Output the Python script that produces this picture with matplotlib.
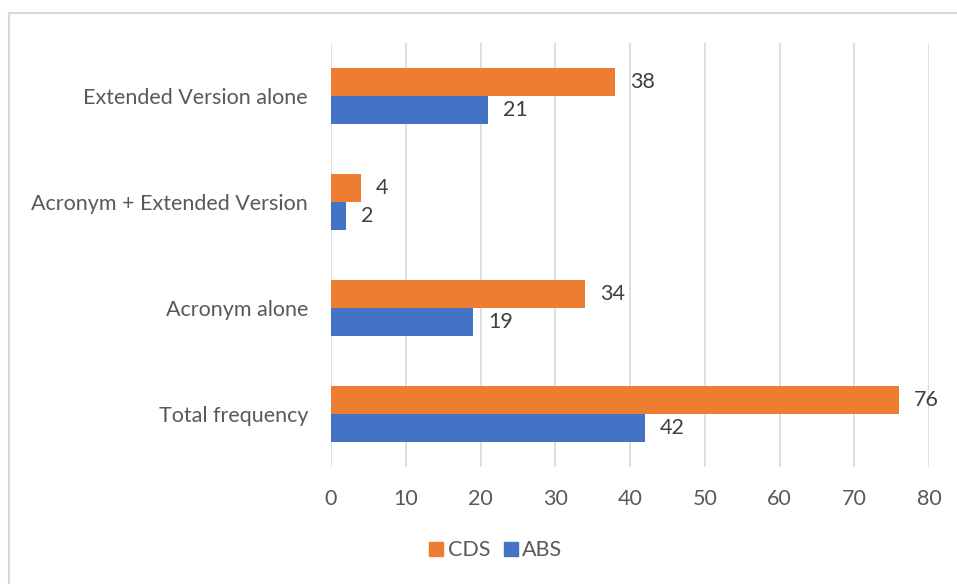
import numpy as np
import matplotlib
matplotlib.use("Agg")
import matplotlib.pyplot as plt
from matplotlib.lines import Line2D

categories = ["Total frequency", "Acronym alone", "Acronym + Extended Version", "Extended Version alone"]
cds = [76, 34, 4, 38]
abs_ = [42, 19, 2, 21]
xticks = [0, 10, 20, 30, 40, 50, 60, 70, 80]

ORANGE = "#ED7D31"
BLUE = "#4472C4"
TXT = "#595959"
GRID = "#D9D9D9"
FS = 15.5

plt.rcParams["font.family"] = ["Lato", "DejaVu Sans"]

fig = plt.figure(figsize=(9.57, 5.84), dpi=100)
ax = fig.add_axes([0.3459, 0.2003, 0.6249, 0.726])

y = np.arange(len(categories))
h = 0.26
ax.barh(y + h / 2, cds, height=h, color=ORANGE, label="CDS", zorder=3)
ax.barh(y - h / 2, abs_, height=h, color=BLUE, label="ABS", zorder=3)

for yi, v in zip(y + h / 2, cds):
    ax.text(v + 2.0, yi, str(v), va="center", ha="left", fontsize=FS, color="#404040")
for yi, v in zip(y - h / 2, abs_):
    ax.text(v + 2.0, yi, str(v), va="center", ha="left", fontsize=FS, color="#404040")

ax.set_xlim(0, 80)
ax.set_ylim(-0.5, len(categories) - 0.5)
ax.set_xticks(xticks)
ax.set_yticks(y)
ax.set_yticklabels(categories)
ax.tick_params(axis="both", length=0, labelsize=FS, labelcolor=TXT)
ax.tick_params(axis="x", pad=15.5)
ax.tick_params(axis="y", pad=16.5)
ax.grid(axis="x", color=GRID, lw=1.2, zorder=0)
for s in ax.spines.values():
    s.set_visible(False)

handles = [Line2D([], [], marker="s", ls="", ms=10, color=ORANGE),
           Line2D([], [], marker="s", ls="", ms=10, color=BLUE)]
leg = fig.legend(handles, ["CDS", "ABS"], loc="center", bbox_to_anchor=(0.516, 0.058),
                 ncol=2, frameon=False, fontsize=FS, handletextpad=0.05,
                 columnspacing=0.45, handlelength=1.0)
for t in leg.get_texts():
    t.set_color(TXT)

# outer chart frame (top and left edges visible)
fig.add_artist(Line2D([9 / 957, 1.0], [1 - 13 / 584, 1 - 13 / 584], color=GRID, lw=1.5,
                      transform=fig.transFigure))
fig.add_artist(Line2D([9 / 957, 9 / 957], [0, 1 - 13 / 584], color=GRID, lw=1.5,
                      transform=fig.transFigure))

fig.savefig("out.png", dpi=100)
